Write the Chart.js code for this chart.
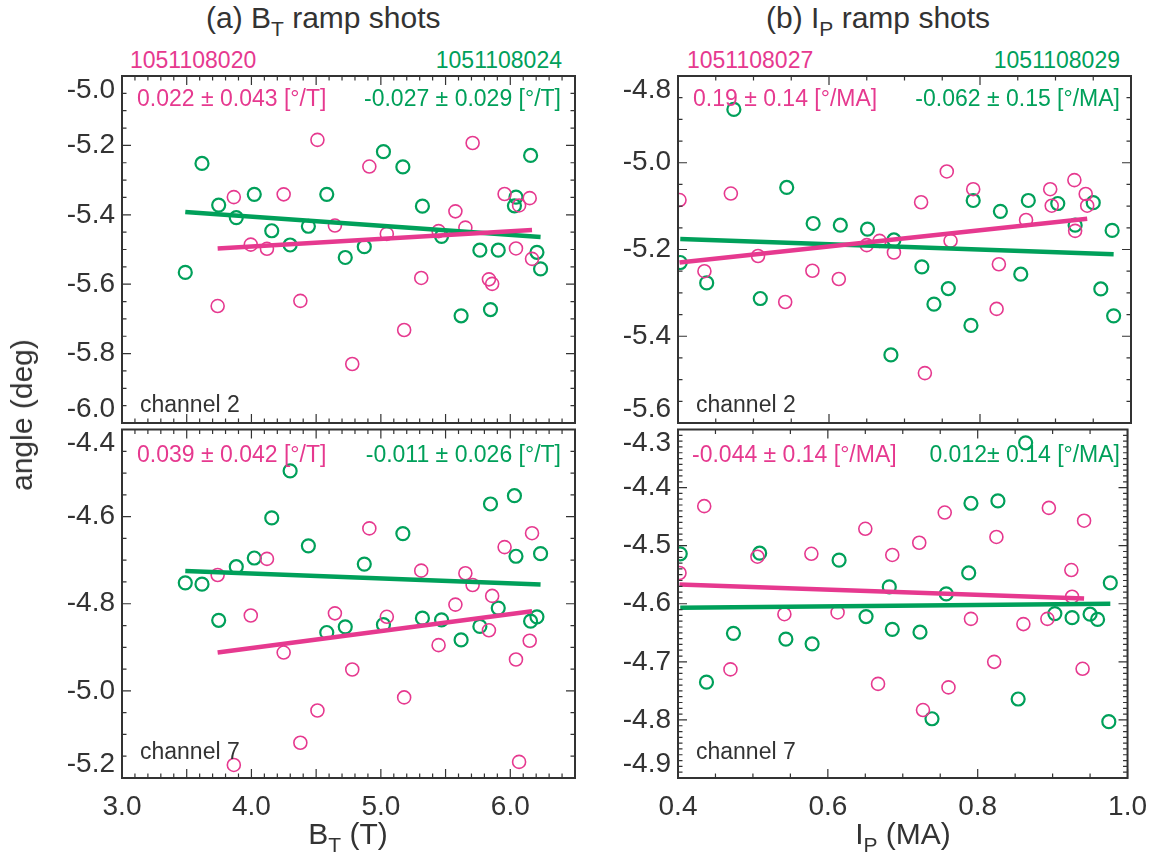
<html><head>
<style>
body { margin:0; background:#fff; font-family:"Liberation Sans", Arial, Helvetica, sans-serif; color:#333; }
canvas { position:absolute; }
.t { position:absolute; white-space:nowrap; line-height:1; }
.t sub { font-size:70%; vertical-align:-0.38em; line-height:0; }
.pk { color:#e6398f; }
.gr { color:#00a05a; }
</style>
</head>
<body>
<script src="https://cdn.jsdelivr.net/npm/chart.js@4.4.1/dist/chart.umd.min.js"></script>

<div class="t" style="left:206px;top:3px;font-size:30px">(a) B<sub>T</sub> ramp shots</div>
<div class="t" style="left:766px;top:3px;font-size:30px">(b) I<sub>P</sub> ramp shots</div>

<div class="t pk" style="left:130px;top:49px;font-size:23px">1051108020</div>
<div class="t gr" style="right:597px;top:49px;font-size:23px">1051108024</div>
<div class="t pk" style="left:687px;top:49px;font-size:23px">1051108027</div>
<div class="t gr" style="right:39px;top:49px;font-size:23px">1051108029</div>

<canvas id="cTL" width="600" height="400" style="left:0;top:50px"></canvas>
<canvas id="cTR" width="569" height="400" style="left:590px;top:50px"></canvas>
<canvas id="cBL" width="600" height="455" style="left:0;top:405px"></canvas>
<canvas id="cBR" width="569" height="455" style="left:590px;top:405px"></canvas>

<div class="t pk" style="left:137px;top:87px;font-size:23px">0.022 ± 0.043 [°/T]</div>
<div class="t gr" style="right:598px;top:87px;font-size:23px">-0.027 ± 0.029 [°/T]</div>
<div class="t pk" style="left:693px;top:87px;font-size:23px">0.19 ± 0.14 [°/MA]</div>
<div class="t gr" style="right:39px;top:87px;font-size:23px">-0.062 ± 0.15 [°/MA]</div>
<div class="t pk" style="left:137px;top:443px;font-size:23px">0.039 ± 0.042 [°/T]</div>
<div class="t gr" style="right:598px;top:443px;font-size:23px">-0.011 ± 0.026 [°/T]</div>
<div class="t pk" style="left:692px;top:443px;font-size:23px">-0.044 ± 0.14 [°/MA]</div>
<div class="t gr" style="right:39px;top:443px;font-size:23px">0.012± 0.14 [°/MA]</div>

<div class="t" style="left:140px;top:393px;font-size:23px">channel 2</div>
<div class="t" style="left:696px;top:393px;font-size:23px">channel 2</div>
<div class="t" style="left:140px;top:740px;font-size:23px">channel 7</div>
<div class="t" style="left:696px;top:740px;font-size:23px">channel 7</div>

<div class="t" style="left:348px;top:819px;font-size:30px;transform:translateX(-50%)">B<sub>T</sub> (T)</div>
<div class="t" style="left:903px;top:819px;font-size:30px;transform:translateX(-50%)">I<sub>P</sub> (MA)</div>
<div class="t" style="left:22px;top:415px;font-size:30px;transform:translate(-50%,-50%) rotate(-90deg)">angle (deg)</div>

<script>
const pink = '#e6398f';
const green = '#00a05a';
const ink = '#333333';

// B_T ramp: shot 1051108020 (pink) and 1051108024 (green), B_T in T
const bt20 = [3.739, 3.864, 3.995, 4.12, 4.249, 4.378, 4.51, 4.645, 4.779, 4.911, 5.046, 5.18,
              5.312, 5.446, 5.576, 5.653, 5.709, 5.835, 5.86, 5.956, 6.044, 6.068, 6.15, 6.168];
const ch2_20 = [-5.663, -5.349, -5.486, -5.498, -5.341, -5.648, -5.184, -5.431, -5.830, -5.261, -5.455, -5.732,
                -5.582, -5.447, -5.390, -5.437, -5.193, -5.586, -5.599, -5.340, -5.497, -5.373, -5.352, -5.527];
const ch7_20 = [-4.734, -5.170, -4.827, -4.697, -4.912, -5.119, -5.045, -4.822, -4.951, -4.627, -4.830, -5.015,
                -4.724, -4.895, -4.802, -4.730, -4.757, -4.861, -4.782, -4.670, -4.928, -5.163, -4.885, -4.638];

const bt24 = [3.489, 3.618, 3.747, 3.883, 4.022, 4.157, 4.299, 4.44, 4.582, 4.725, 4.872, 5.02,
              5.17, 5.321, 5.469, 5.62, 5.765, 5.847, 5.907, 6.032, 6.044, 6.157, 6.206, 6.234];
const ch2_24 = [-5.566, -5.252, -5.372, -5.408, -5.341, -5.446, -5.487, -5.433, -5.341, -5.523, -5.492, -5.218,
                -5.262, -5.375, -5.462, -5.691, -5.502, -5.673, -5.502, -5.374, -5.349, -5.229, -5.508, -5.556];
const ch7_24 = [-4.752, -4.755, -4.838, -4.715, -4.695, -4.603, -4.495, -4.667, -4.866, -4.853, -4.709, -4.848,
                -4.639, -4.833, -4.837, -4.883, -4.852, -4.571, -4.810, -4.552, -4.691, -4.840, -4.830, -4.685];

// I_P ramp: shot 1051108027 (pink) and 1051108029 (green), I_P in MA
const ip27 = [0.402, 0.435, 0.470, 0.506, 0.542, 0.578, 0.613, 0.650, 0.667, 0.686, 0.722, 0.727,
              0.756, 0.761, 0.791, 0.822, 0.825, 0.861, 0.893, 0.895, 0.925, 0.926, 0.940, 0.942];
const ch2_27 = [-5.086, -5.250, -5.071, -5.215, -5.321, -5.249, -5.268, -5.190, -5.180, -5.207, -5.091, -5.485,
                -5.020, -5.180, -5.061, -5.337, -5.234, -5.132, -5.061, -5.099, -5.040, -5.157, -5.072, -5.099];
const ch7_27 = [-4.547, -4.432, -4.713, -4.519, -4.618, -4.514, -4.615, -4.471, -4.738, -4.516, -4.495, -4.783,
                -4.443, -4.744, -4.626, -4.700, -4.485, -4.635, -4.626, -4.435, -4.542, -4.588, -4.712, -4.457];

const ip29 = [0.403, 0.438, 0.474, 0.509, 0.544, 0.579, 0.615, 0.651, 0.682, 0.686, 0.723, 0.739,
              0.758, 0.788, 0.791, 0.827, 0.854, 0.864, 0.903, 0.926, 0.950, 0.960, 0.975, 0.977];
const ch2_29 = [-5.230, -5.277, -4.877, -5.313, -5.057, -5.140, -5.144, -5.153, -5.443, -5.178, -5.240, -5.326,
                -5.290, -5.375, -5.087, -5.112, -5.257, -5.087, -5.094, -5.144, -5.092, -5.291, -5.156, -5.353];
const ch7_29 = [-4.514, -4.735, -4.651, -4.513, -4.661, -4.669, -4.525, -4.622, -4.571, -4.644, -4.649, -4.798,
                -4.583, -4.547, -4.427, -4.423, -4.764, -4.323, -4.617, -4.624, -4.618, -4.627, -4.803, -4.564];

// linear fits, end points
const fitBt20 = [3.739, 6.168], fitBt24 = [3.489, 6.234];
const fitCh2_20 = [-5.497, -5.444], fitCh2_24 = [-5.392, -5.464];
const fitCh7_20 = [-4.912, -4.817], fitCh7_24 = [-4.725, -4.756];
const fitIp27 = [0.402, 0.942], fitIp29 = [0.403, 0.977];
const fitCh2_27 = [-5.230, -5.129], fitCh2_29 = [-5.176, -5.211];
const fitCh7_27 = [-4.567, -4.591], fitCh7_29 = [-4.607, -4.600];

function pts(xs, ys) { return xs.map((x, i) => ({x: x, y: ys[i]})); }
function isMajor(v, M) { return Math.abs(v / M - Math.round(v / M)) < 1e-6; }

const frameTicks = {
  id: 'frameTicks',
  beforeDraw(chart) {
    // end labels sit inside the frame, as in the original
    const items = chart.scales.y.getLabelItems();
    if (items.length > 1) {
      items[0].options.textBaseline = 'bottom';
      items[items.length - 1].options.textBaseline = 'top';
    }
  },
  afterDatasetsDraw(chart, args, o) {
    const ctx = chart.ctx, a = chart.chartArea, x = chart.scales.x, y = chart.scales.y;
    ctx.save();
    ctx.strokeStyle = ink;
    ctx.lineWidth = 1.2;
    ctx.beginPath();
    let n = Math.round((o.xMax - o.xMin) / o.xMinor);
    for (let i = 0; i <= n; i++) {
      const v = o.xMin + i * o.xMinor;
      const len = isMajor(v, o.xMajor) ? 9 : 4.5;
      const p = x.getPixelForValue(v);
      ctx.moveTo(p, a.bottom); ctx.lineTo(p, a.bottom - len);
      ctx.moveTo(p, a.top); ctx.lineTo(p, a.top + len);
    }
    n = Math.round((o.yMax - o.yMin) / o.yMinor);
    for (let i = 0; i <= n; i++) {
      const v = o.yMin + i * o.yMinor;
      const len = isMajor(v, o.yMajor) ? 9 : 4.5;
      const p = y.getPixelForValue(v);
      ctx.moveTo(a.left, p); ctx.lineTo(a.left + len, p);
      ctx.moveTo(a.right, p); ctx.lineTo(a.right - len, p);
    }
    ctx.stroke();
    ctx.lineWidth = 2;
    ctx.strokeRect(a.left, a.top, a.right - a.left, a.bottom - a.top);
    ctx.restore();
  }
};

function makeChart(id, c) {
  const tickFont = {family: 'Liberation Sans', size: 28};
  new Chart(document.getElementById(id), {
    type: 'scatter',
    data: {
      datasets: [
        {data: pts(c.fitX1, c.fitY1), showLine: true, borderColor: pink, borderWidth: 4.5, pointRadius: 0, order: 0},
        {data: pts(c.fitX2, c.fitY2), showLine: true, borderColor: green, borderWidth: 4.5, pointRadius: 0, order: 1},
        {data: pts(c.x1, c.y1), borderColor: pink, backgroundColor: 'rgba(0,0,0,0)', pointRadius: 6.5, borderWidth: 1.6, order: 2},
        {data: pts(c.x2, c.y2), borderColor: green, backgroundColor: 'rgba(0,0,0,0)', pointRadius: 6.5, borderWidth: 2.2, order: 3}
      ]
    },
    options: {
      responsive: false,
      animation: false,
      events: [],
      layout: {padding: c.pad},
      plugins: {
        legend: {display: false},
        tooltip: {enabled: false},
        frameTicks: {xMin: c.xMin, xMax: c.xMax, xMinor: c.xMinor, xMajor: c.xMajor,
                     yMin: c.yMin, yMax: c.yMax, yMinor: c.yMinor, yMajor: c.yMajor}
      },
      scales: {
        x: {
          type: 'linear', display: c.showX, min: c.xMin, max: c.xMax,
          grid: {display: false, drawTicks: false}, border: {display: false},
          ticks: {stepSize: c.xStep, includeBounds: false, autoSkip: false, maxRotation: 0,
                  padding: 12, color: ink, font: tickFont, callback: v => v.toFixed(1)},
          afterFit: s => { s.height = c.xH; }
        },
        y: {
          type: 'linear', min: c.yMin, max: c.yMax,
          grid: {display: false, drawTicks: false}, border: {display: false},
          ticks: {stepSize: c.yStep, includeBounds: false, autoSkip: false,
                  padding: 7, color: ink, font: tickFont, callback: v => v.toFixed(1)},
          afterFit: s => { s.width = c.yW; }
        }
      }
    },
    plugins: [frameTicks]
  });
}

const btAxis = {xMin: 3.0, xMax: 6.5, xStep: 1.0, xMinor: 0.1, xMajor: 0.5, yW: 122};
const ipAxis = {xMin: 0.4, xMax: 1.0, xStep: 0.2, xMinor: 0.05, xMajor: 0.2, yW: 88};

makeChart('cTL', Object.assign({}, btAxis, {
  showX: false, xH: 0, pad: {left: 0, right: 25, top: 26, bottom: 27},
  yMin: -6.0, yMax: -5.0, yStep: 0.2, yMinor: 0.05, yMajor: 0.2,
  x1: bt20, y1: ch2_20, x2: bt24, y2: ch2_24,
  fitX1: fitBt20, fitY1: fitCh2_20, fitX2: fitBt24, fitY2: fitCh2_24
}));
makeChart('cBL', Object.assign({}, btAxis, {
  showX: true, xH: 82, pad: {left: 0, right: 25, top: 24.5, bottom: 0},
  yMin: -5.2, yMax: -4.4, yStep: 0.2, yMinor: 0.05, yMajor: 0.2,
  x1: bt20, y1: ch7_20, x2: bt24, y2: ch7_24,
  fitX1: fitBt20, fitY1: fitCh7_20, fitX2: fitBt24, fitY2: fitCh7_24
}));
makeChart('cTR', Object.assign({}, ipAxis, {
  showX: false, xH: 0, pad: {left: 0, right: 28, top: 26, bottom: 27},
  yMin: -5.6, yMax: -4.8, yStep: 0.2, yMinor: 0.05, yMajor: 0.2,
  x1: ip27, y1: ch2_27, x2: ip29, y2: ch2_29,
  fitX1: fitIp27, fitY1: fitCh2_27, fitX2: fitIp29, fitY2: fitCh2_29
}));
makeChart('cBR', Object.assign({}, ipAxis, {
  showX: true, xH: 82, pad: {left: 0, right: 28, top: 24.5, bottom: 0},
  yMin: -4.9, yMax: -4.3, yStep: 0.1, yMinor: 0.01, yMajor: 0.1,
  x1: ip27, y1: ch7_27, x2: ip29, y2: ch7_29,
  fitX1: fitIp27, fitY1: fitCh7_27, fitX2: fitIp29, fitY2: fitCh7_29
}));
</script>
</body>
</html>
